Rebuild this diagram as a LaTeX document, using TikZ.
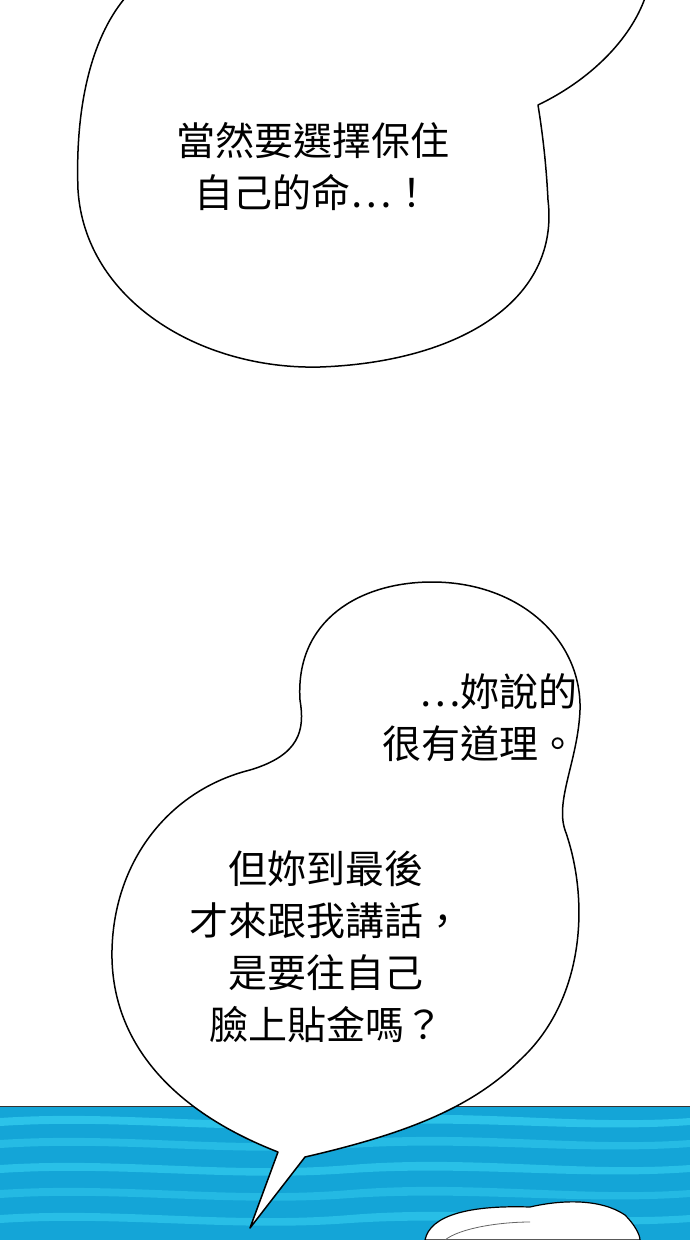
\documentclass[tikz,border=0pt]{standalone}
\usepackage{fontspec}
\newfontfamily\cjk{Noto Sans CJK TC}
\definecolor{water}{RGB}{20,165,215}
\definecolor{waterlight}{RGB}{60,215,245}
\begin{document}
\begin{tikzpicture}[x=1pt,y=-1pt,
  bub/.style={draw=black,line width=1.5pt,fill=white,line join=round},
  txt/.style={font=\cjk\fontsize{39}{52}\selectfont,align=center,inner sep=0pt}]
\useasboundingbox (0,0) rectangle (690,1240);
\fill[white] (0,0) rectangle (690,1240);
% water
\fill[water] (0,1106) rectangle (690,1240);
\foreach \y/\o in {1118/0.6,1140/0.45,1165/0.55,1190/0.4,1215/0.5}{
  \fill[waterlight,opacity=\o] (0,\y) .. controls (120,\y-8) and (230,\y+10) .. (350,\y) .. controls (470,\y-10) and (580,\y+8) .. (690,\y) -- (690,\y+7) .. controls (580,\y+15) and (470,\y) .. (350,\y+8) .. controls (230,\y+17) and (120,\y) .. (0,\y+8) -- cycle;}
\draw[black!80,line width=1pt] (0,1106) -- (690,1106);
% head
\fill[white,draw=black,line width=1.2pt] (425,1240) .. controls (430,1215) and (470,1205) .. (530,1207) .. controls (560,1200) and (600,1198) .. (625,1215) .. controls (635,1225) and (640,1235) .. (640,1240) -- cycle;
\draw[black!60,line width=0.8pt] (445,1240) .. controls (460,1228) and (500,1222) .. (530,1222);
% top bubble
\path[bub] (125,-2) .. controls (90,40) and (75,110) .. (78,190)
  .. controls (85,300) and (200,370) .. (320,367)
  .. controls (460,362) and (560,300) .. (548,200)
  .. controls (546,160) and (542,130) .. (538,105)
  .. controls (590,80) and (630,40) .. (645,-2);
\node[txt] (t1) at (313,167) {當然要選擇保住\\自己的命⋯！};
% lower bubble
\path[bub] (300,700) .. controls (295,620) and (360,582) .. (432,582)
  .. controls (520,582) and (582,640) .. (580,710)
  .. controls (578,760) and (555,800) .. (565,830)
  .. controls (590,900) and (585,1000) .. (520,1060)
  .. controls (470,1110) and (400,1135) .. (305,1157)
  -- (250,1228) -- (278,1152)
  .. controls (170,1110) and (110,1040) .. (112,950)
  .. controls (114,860) and (170,790) .. (250,770)
  .. controls (300,755) and (305,730) .. (300,700) -- cycle;
\node[txt,align=right,anchor=east] (t2) at (578,718) {⋯妳說的\\很有道理。};
\node[txt] (t3) at (326,947) {但妳到最後\\才來跟我講話，\\是要往自己\\臉上貼金嗎？};
\end{tikzpicture}
\end{document}
